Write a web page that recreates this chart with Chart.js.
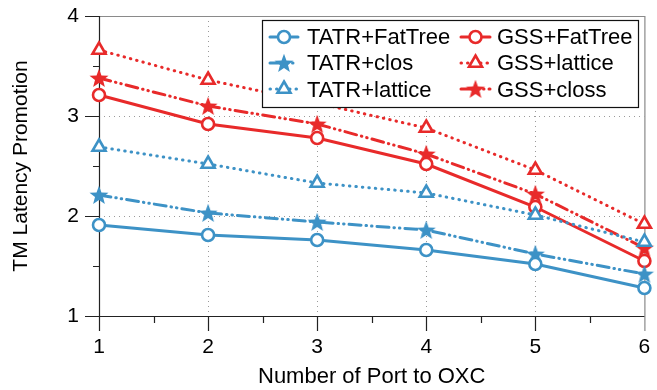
<!DOCTYPE html>
<html>
<head>
<meta charset="utf-8">
<script src="https://cdn.jsdelivr.net/npm/chart.js@4/dist/chart.umd.min.js"></script>
<style>
html,body{margin:0;padding:0;background:#fff;}
#wrap{width:657px;height:390px;position:relative;}
</style>
</head>
<body>
<div id="wrap"><canvas id="c" width="657" height="390"></canvas></div>
<script>
// ---- data ----
const ports = [1, 2, 3, 4, 5, 6];
const tatrFatTree = [1.91, 1.81, 1.76, 1.66, 1.52, 1.28];
const tatrClos    = [2.21, 2.03, 1.94, 1.86, 1.62, 1.42];
const tatrLattice = [2.69, 2.52, 2.33, 2.23, 2.01, 1.74];
const gssFatTree  = [3.21, 2.92, 2.78, 2.52, 2.09, 1.55];
const gssLattice  = [3.66, 3.36, 3.13, 2.88, 2.46, 1.92];
const gssCloss    = [3.38, 3.10, 2.92, 2.62, 2.22, 1.68];
const seriesNames = ['TATR+FatTree', 'TATR+clos', 'TATR+lattice', 'GSS+FatTree', 'GSS+lattice', 'GSS+closs'];
const xTicks = [1, 2, 3, 4, 5, 6];
const yTicks = [1, 2, 3, 4];

const BLUE = '#3d92c6';
const RED = '#e82a2a';
const FONT = '"Liberation Sans", Arial, Helvetica, sans-serif';

function makeStar(color) {
  const s = 22, c = document.createElement('canvas');
  c.width = s; c.height = s;
  const g = c.getContext('2d');
  const R = 10, r = 4.2, cx = s / 2, cy = s / 2 + 0.8;
  g.beginPath();
  for (let i = 0; i < 10; i++) {
    const rad = i % 2 === 0 ? R : r;
    const a = -Math.PI / 2 + i * Math.PI / 5;
    const x = cx + rad * Math.cos(a), y = cy + rad * Math.sin(a);
    if (i === 0) g.moveTo(x, y); else g.lineTo(x, y);
  }
  g.closePath();
  g.fillStyle = color;
  g.fill();
  return c;
}
const starBlue = makeStar(BLUE), starRed = makeStar(RED);

const DASH_CLOS = [12, 5, 0.5, 5, 0.5, 5];
const DOT = [0.5, 6];

function pts(arr) { return ports.map((p, i) => ({x: p, y: arr[i]})); }

const styles = [
  {color: BLUE, dash: [], marker: 'circle'},
  {color: BLUE, dash: DASH_CLOS, marker: 'star'},
  {color: BLUE, dash: DOT, marker: 'triangle'},
  {color: RED, dash: [], marker: 'circle'},
  {color: RED, dash: DOT, marker: 'triangle'},
  {color: RED, dash: DASH_CLOS, marker: 'star'}
];
const values = [tatrFatTree, tatrClos, tatrLattice, gssFatTree, gssLattice, gssCloss];

const datasets = values.map((v, i) => {
  const st = styles[i];
  const ds = {
    label: seriesNames[i],
    data: pts(v),
    borderColor: st.color,
    borderWidth: 3,
    borderDash: st.dash,
    borderCapStyle: 'round',
    tension: 0,
    fill: false,
    clip: false,
    pointBorderColor: st.color,
    pointBackgroundColor: '#fff',
    pointBorderWidth: 2.6
  };
  if (st.marker === 'circle') { ds.pointStyle = 'circle'; ds.pointRadius = 6; }
  else if (st.marker === 'triangle') { ds.pointStyle = 'triangle'; ds.pointRadius = 7.5; }
  else { ds.pointStyle = st.color === BLUE ? starBlue : starRed; ds.pointRadius = 10; ds.pointBackgroundColor = st.color; }
  return ds;
});

function drawMarker(ctx, st, x, y) {
  ctx.save();
  ctx.setLineDash([]);
  if (st.marker === 'circle') {
    ctx.beginPath(); ctx.arc(x, y, 6, 0, Math.PI * 2);
    ctx.fillStyle = '#fff'; ctx.fill();
    ctx.lineWidth = 2.6; ctx.strokeStyle = st.color; ctx.stroke();
  } else if (st.marker === 'triangle') {
    const r = 7.5;
    ctx.beginPath();
    ctx.moveTo(x, y - r);
    ctx.lineTo(x + r * Math.sin(Math.PI / 3), y + r * 0.5);
    ctx.lineTo(x - r * Math.sin(Math.PI / 3), y + r * 0.5);
    ctx.closePath();
    ctx.fillStyle = '#fff'; ctx.fill();
    ctx.lineWidth = 2.6; ctx.strokeStyle = st.color; ctx.stroke();
  } else {
    const img = st.color === BLUE ? starBlue : starRed;
    ctx.drawImage(img, x - img.width / 2, y - img.height / 2);
  }
  ctx.restore();
}

const framePlugin = {
  id: 'frame',
  beforeDatasetsDraw(chart) {
    const {ctx, chartArea: a, scales} = chart;
    const xs = scales.x, ys = scales.y;
    ctx.save();
    ctx.setLineDash([]);
    // grey top & right frame
    ctx.strokeStyle = '#8a8a8a'; ctx.lineWidth = 1.2;
    ctx.beginPath();
    ctx.moveTo(a.left, a.top + 0.5); ctx.lineTo(a.right + 0.5, a.top + 0.5);
    ctx.lineTo(a.right + 0.5, a.bottom + 15);
    ctx.stroke();
    // black left & bottom axes
    ctx.strokeStyle = '#222'; ctx.lineWidth = 1.2;
    ctx.beginPath();
    ctx.moveTo(a.left + 0.5, a.top); ctx.lineTo(a.left + 0.5, a.bottom + 15);
    ctx.moveTo(a.left - 14, a.bottom + 0.5); ctx.lineTo(a.right, a.bottom + 0.5);
    ctx.stroke();
    // major / minor ticks
    ctx.beginPath();
    xTicks.forEach(v => {
      const px = Math.round(xs.getPixelForValue(v)) + 0.5;
      if (v !== 1 && v !== 6) { ctx.moveTo(px, a.bottom); ctx.lineTo(px, a.bottom + 15); }
      if (v < 6) {
        const mx = Math.round(xs.getPixelForValue(v + 0.5)) + 0.5;
        ctx.moveTo(mx, a.bottom); ctx.lineTo(mx, a.bottom + 7);
      }
    });
    yTicks.forEach(v => {
      const py = Math.round(ys.getPixelForValue(v)) + 0.5;
      if (v !== 1) { ctx.moveTo(a.left - 14, py); ctx.lineTo(a.left, py); }
      if (v < 4) {
        const my = Math.round(ys.getPixelForValue(v + 0.5)) + 0.5;
        ctx.moveTo(a.left - 6, my); ctx.lineTo(a.left, my);
      }
    });
    ctx.stroke();
    ctx.restore();
  }
};

const legendPlugin = {
  id: 'boxLegend',
  afterDraw(chart) {
    const ctx = chart.ctx;
    const box = {l: 262, t: 20, r: 638, b: 107};
    ctx.save();
    ctx.fillStyle = '#fff';
    ctx.fillRect(box.l, box.t, box.r - box.l, box.b - box.t);
    ctx.strokeStyle = '#111'; ctx.lineWidth = 1.2; ctx.setLineDash([]);
    ctx.strokeRect(box.l + 0.5, box.t + 0.5, box.r - box.l, box.b - box.t);
    const cols = [{x0: 270, x1: 298, tx: 307}, {x0: 461, x1: 490, tx: 497}];
    const rows = [37, 63, 89];
    const base = [43.5, 70, 97];
    ctx.font = '22px ' + FONT;
    ctx.textBaseline = 'alphabetic';
    ctx.textAlign = 'left';
    for (let i = 0; i < 6; i++) {
      const col = cols[Math.floor(i / 3)], r = i % 3;
      const st = styles[i], y = rows[r];
      ctx.save();
      ctx.strokeStyle = st.color; ctx.lineWidth = 3; ctx.lineCap = 'round';
      ctx.setLineDash(st.dash.length ? st.dash : []);
      ctx.beginPath(); ctx.moveTo(col.x0, y); ctx.lineTo(col.x1, y); ctx.stroke();
      ctx.restore();
      drawMarker(ctx, st, (col.x0 + col.x1) / 2, y);
      ctx.fillStyle = '#000';
      ctx.fillText(seriesNames[i], col.tx, base[r]);
    }
    ctx.restore();
  }
};

new Chart(document.getElementById('c'), {
  type: 'line',
  data: {datasets},
  plugins: [framePlugin, legendPlugin],
  options: {
    responsive: false,
    animation: false,
    devicePixelRatio: 1,
    layout: {padding: {left: 0, top: 16, right: 9, bottom: 0}},
    plugins: {legend: {display: false}, tooltip: {enabled: false}},
    scales: {
      x: {
        type: 'linear', min: 1, max: 6,
        afterFit(s) { s.height = 74; s.paddingLeft = 0; s.paddingRight = 0; },
        afterBuildTicks(s) { s.ticks = xTicks.map(v => ({value: v})); },
        ticks: {stepSize: 1, padding: 19, color: '#000', font: {family: FONT, size: 21}},
        grid: {
          drawTicks: false, lineWidth: 1,
          color: c => (c.tick && c.tick.value > 1 && c.tick.value < 6) ? '#9a9a9a' : 'rgba(0,0,0,0)'
        },
        border: {display: false, dash: [1, 4]},
        title: {display: true, text: 'Number of Port to OXC', color: '#000', font: {family: FONT, size: 22}, padding: {top: 0, bottom: 0}}
      },
      y: {
        type: 'linear', min: 1, max: 4,
        afterFit(s) { s.width = 99; s.paddingTop = 0; s.paddingBottom = 0; },
        afterBuildTicks(s) { s.ticks = yTicks.map(v => ({value: v})); },
        ticks: {stepSize: 1, padding: 20, color: '#000', font: {family: FONT, size: 21}},
        grid: {
          drawTicks: false, lineWidth: 1,
          color: c => (c.tick && c.tick.value > 1 && c.tick.value < 4) ? '#9a9a9a' : 'rgba(0,0,0,0)'
        },
        border: {display: false, dash: [1, 4]},
        title: {display: true, text: 'TM Latency Promotion', color: '#000', font: {family: FONT, size: 21}, padding: {top: 9, bottom: 0}}
      }
    }
  }
});
</script>
</body>
</html>
